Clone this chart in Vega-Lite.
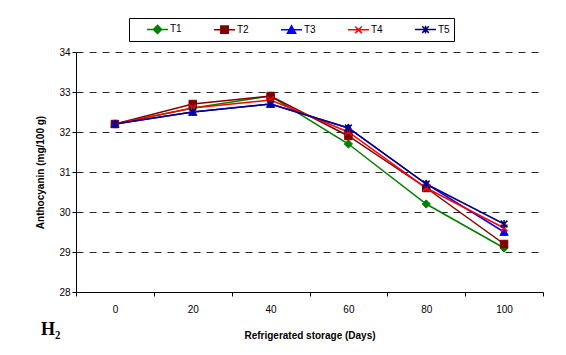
{
  "$schema": "https://vega.github.io/schema/vega-lite/v6.json",
  "width": 467,
  "height": 240,
  "autosize": "none",
  "padding": {"left": 76, "top": 52, "right": 23, "bottom": 63},
  "background": "white",
  "config": {
    "view": {"stroke": null},
    "font": "Liberation Sans",
    "axis": {
      "labelFont": "Liberation Sans",
      "labelFontSize": 10,
      "labelColor": "#000",
      "titleFont": "Liberation Sans",
      "titleFontSize": 10,
      "titleFontWeight": "bold",
      "titleColor": "#000",
      "domainColor": "#000",
      "tickColor": "#000",
      "tickSize": 4
    }
  },
  "title": {
    "text": "H₂",
    "orient": "bottom",
    "anchor": "start",
    "frame": "bounds",
    "font": "Liberation Serif",
    "fontSize": 18,
    "fontWeight": "bold",
    "color": "#000",
    "offset": 0,
    "dx": 5,
    "dy": -19
  },
  "data": {
    "values": [
      {"day": 0, "series": "T1", "value": 32.2},
      {"day": 20, "series": "T1", "value": 32.6},
      {"day": 40, "series": "T1", "value": 32.9},
      {"day": 60, "series": "T1", "value": 31.7},
      {"day": 80, "series": "T1", "value": 30.2},
      {"day": 100, "series": "T1", "value": 29.1},
      {"day": 0, "series": "T2", "value": 32.2},
      {"day": 20, "series": "T2", "value": 32.7},
      {"day": 40, "series": "T2", "value": 32.9},
      {"day": 60, "series": "T2", "value": 31.9},
      {"day": 80, "series": "T2", "value": 30.6},
      {"day": 100, "series": "T2", "value": 29.2},
      {"day": 0, "series": "T3", "value": 32.2},
      {"day": 20, "series": "T3", "value": 32.5},
      {"day": 40, "series": "T3", "value": 32.7},
      {"day": 60, "series": "T3", "value": 32.1},
      {"day": 80, "series": "T3", "value": 30.7},
      {"day": 100, "series": "T3", "value": 29.5},
      {"day": 0, "series": "T4", "value": 32.2},
      {"day": 20, "series": "T4", "value": 32.6},
      {"day": 40, "series": "T4", "value": 32.8},
      {"day": 60, "series": "T4", "value": 32.0},
      {"day": 80, "series": "T4", "value": 30.6},
      {"day": 100, "series": "T4", "value": 29.6},
      {"day": 0, "series": "T5", "value": 32.2},
      {"day": 20, "series": "T5", "value": 32.5},
      {"day": 40, "series": "T5", "value": 32.7},
      {"day": 60, "series": "T5", "value": 32.1},
      {"day": 80, "series": "T5", "value": 30.7},
      {"day": 100, "series": "T5", "value": 29.7}
    ]
  },
  "encoding": {
    "x": {
      "field": "day",
      "type": "quantitative",
      "scale": {"domain": [-10, 110], "nice": false, "zero": false},
      "axis": {
        "title": "Refrigerated storage (Days)",
        "values": [-10, 0, 10, 20, 30, 40, 50, 60, 70, 80, 90, 100, 110],
        "labelExpr": "(datum.value % 20 == 0 && datum.value >= 0) ? datum.label : ''",
        "tickOpacity": {"condition": {"test": "datum.value % 20 == 0", "value": 0}, "value": 1},
        "labelFlush": false,
        "labelOverlap": false,
        "labelPadding": 8,
        "titlePadding": 16,
        "grid": false
      }
    },
    "y": {
      "field": "value",
      "type": "quantitative",
      "scale": {"domain": [28, 34], "nice": false, "zero": false},
      "axis": {
        "title": "Anthocyanin (mg/100 g)",
        "values": [28, 29, 30, 31, 32, 33, 34],
        "labelPadding": 2,
        "titlePadding": 13,
        "grid": true,
        "gridColor": "#000",
        "gridDash": [7, 6],
        "gridWidth": 1,
        "gridOpacity": 0.85
      }
    },
    "color": {
      "field": "series",
      "type": "nominal",
      "scale": {
        "domain": ["T1", "T2", "T3", "T4", "T5"],
        "range": ["#008000", "#800000", "#0000FF", "#FF0000", "#000080"]
      },
      "legend": {
        "title": null,
        "orient": "none",
        "legendX": 53,
        "legendY": -34,
        "direction": "horizontal",
        "columns": 5,
        "padding": 4,
        "strokeColor": "#000",
        "fillColor": "white",
        "symbolSize": 144,
        "labelOffset": 23,
        "columnPadding": 18,
        "labelFont": "Liberation Sans",
        "labelFontSize": 10,
        "labelColor": "#000",
        "encode": {
          "symbols": {
            "update": {
              "shape": {"signal": "datum.value === 'T1' ? 'M1.17,0H4.67M2.92,-0.68L3.6,0L2.92,0.68L2.24,0Z' : datum.value === 'T2' ? 'M1.17,0H4.67M2.3,-0.62H3.54V0.62H2.3Z' : datum.value === 'T3' ? 'M1.17,0H4.67M2.92,-0.68L3.6,0.55H2.24Z' : datum.value === 'T4' ? 'M1.17,0H4.67M2.37,-0.55L3.47,0.55M2.37,0.55L3.47,-0.55' : 'M1.17,0H4.67M2.37,-0.55L3.47,0.55M2.37,0.55L3.47,-0.55M2.92,-0.65V0.65'"},
              "fill": {"signal": "scale('color', datum.value)"},
              "stroke": {"signal": "scale('color', datum.value)"},
              "strokeWidth": {"value": 1.5},
              "size": {"value": 144},
              "opacity": {"value": 1}
            }
          }
        }
      }
    }
  },
  "layer": [
    {
      "mark": {"type": "line", "strokeWidth": 1.5}
    },
    {
      "transform": [{"filter": "datum.series === 'T1'"}],
      "mark": {"type": "point", "shape": "M0,-1.1L1.1,0L0,1.1L-1.1,0Z", "filled": true, "stroke": "#008000", "size": 56, "strokeWidth": 1, "opacity": 1}
    },
    {
      "transform": [{"filter": "datum.series === 'T2'"}],
      "mark": {"type": "point", "shape": "M-1,-1H1V1H-1Z", "filled": true, "stroke": "#800000", "size": 56, "strokeWidth": 1, "opacity": 1}
    },
    {
      "transform": [{"filter": "datum.series === 'T3'"}],
      "mark": {"type": "point", "shape": "M0,-1.1L1.1,0.9H-1.1Z", "filled": true, "stroke": "#0000FF", "size": 56, "strokeWidth": 1, "opacity": 1}
    },
    {
      "transform": [{"filter": "datum.series === 'T4'"}],
      "mark": {"type": "point", "shape": "M-0.9,-0.9L0.9,0.9M-0.9,0.9L0.9,-0.9", "filled": true, "stroke": "#FF0000", "size": 56, "strokeWidth": 1.5, "opacity": 1}
    },
    {
      "transform": [{"filter": "datum.series === 'T5'"}],
      "mark": {"type": "point", "shape": "M-0.9,-0.9L0.9,0.9M-0.9,0.9L0.9,-0.9M0,-1.1V1.1", "filled": true, "stroke": "#000080", "size": 56, "strokeWidth": 1.5, "opacity": 1}
    }
  ]
}
